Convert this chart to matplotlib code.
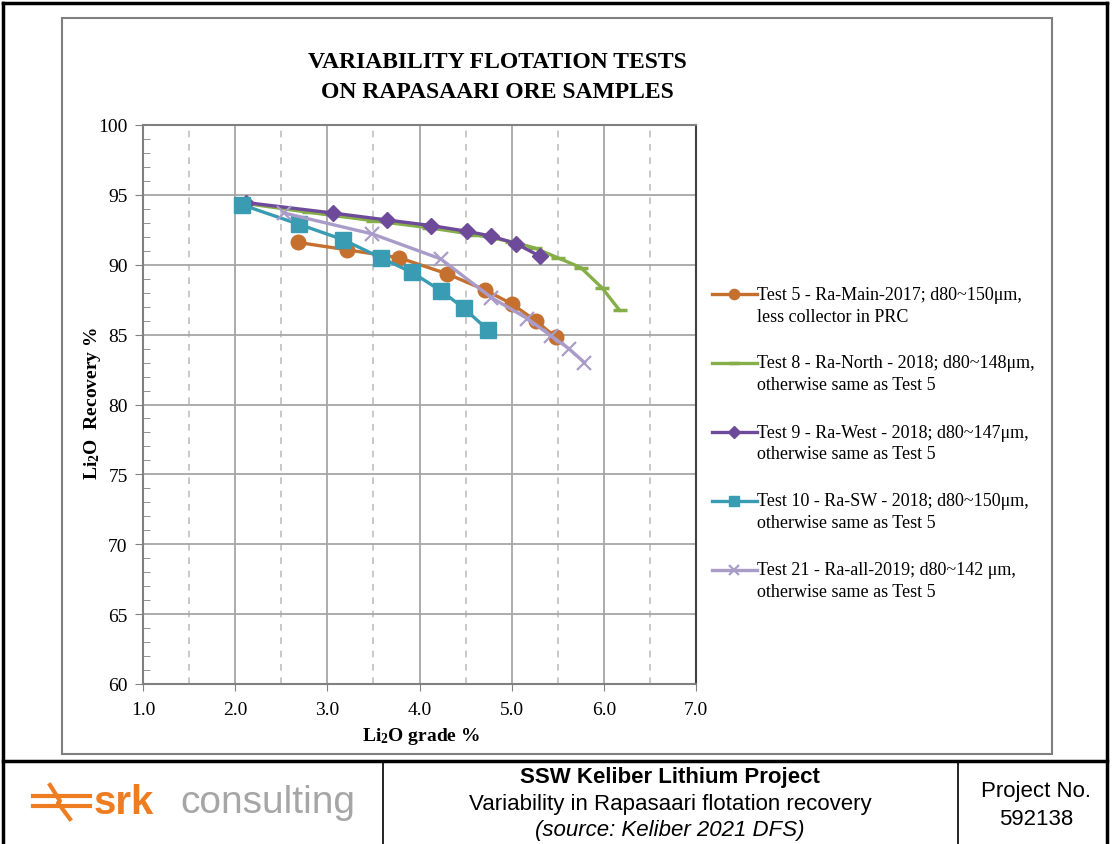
import matplotlib
matplotlib.use("Agg")
import matplotlib.pyplot as plt
from matplotlib.lines import Line2D
from matplotlib.patches import Rectangle

plt.rcParams["font.family"] = ["Liberation Serif", "DejaVu Serif"]
plt.rcParams["mathtext.fontset"] = "custom"
plt.rcParams["mathtext.rm"] = "Liberation Serif:bold"
plt.rcParams["mathtext.default"] = "rm"

# values (Li2O grade %, Li2O recovery %)
t5_grade = [2.68, 3.21, 3.78, 4.30, 4.71, 5.00, 5.26, 5.48]
t5_rec = [91.6, 91.07, 90.5, 89.35, 88.2, 87.2, 86.0, 84.8]

t8_grade = [2.10, 2.80, 3.50, 4.10, 4.60, 5.00, 5.25, 5.50, 5.75, 5.98, 6.17]
t8_rec = [94.4, 93.75, 93.15, 92.65, 92.15, 91.65, 91.2, 90.5, 89.8, 88.35, 86.75]

t9_grade = [2.12, 3.06, 3.65, 4.13, 4.51, 4.78, 5.05, 5.31]
t9_rec = [94.45, 93.7, 93.2, 92.8, 92.4, 92.05, 91.5, 90.6]

t10_grade = [2.07, 2.69, 3.17, 3.58, 3.92, 4.23, 4.48, 4.74]
t10_rec = [94.3, 92.9, 91.8, 90.5, 89.45, 88.15, 86.9, 85.35]

t21_grade = [2.53, 3.49, 4.23, 4.78, 5.17, 5.43, 5.62, 5.79]
t21_rec = [93.7, 92.2, 90.42, 87.65, 86.15, 84.9, 84.0, 83.0]

legend_labels = [
    ("Test 5 - Ra-Main-2017; d80~150\u03bcm,", "less collector in PRC"),
    ("Test 8 - Ra-North - 2018; d80~148\u03bcm,", "otherwise same as Test 5"),
    ("Test 9 - Ra-West - 2018; d80~147\u03bcm,", "otherwise same as Test 5"),
    ("Test 10 - Ra-SW - 2018; d80~150\u03bcm,", "otherwise same as Test 5"),
    ("Test 21 - Ra-all-2019; d80~142 \u03bcm,", "otherwise same as Test 5"),
]

x_ticks = [1.0, 2.0, 3.0, 4.0, 5.0, 6.0, 7.0]
y_ticks = [60, 65, 70, 75, 80, 85, 90, 95, 100]

series = [
    (t5_grade, t5_rec, "#C5702F", "o", 10.5, 1.0),
    (t8_grade, t8_rec, "#86AE48", "_", 10, 2.5),
    (t9_grade, t9_rec, "#6E4A9A", "D", 8.5, 1.0),
    (t10_grade, t10_rec, "#3A9CB2", "s", 11, 1.0),
    (t21_grade, t21_rec, "#AA9CC9", "x", 9.5, 1.6),
]

W, H = 1112, 845
fig = plt.figure(figsize=(W / 100, H / 100), dpi=100)


def fx(px):
    return px / W


def fy(py):
    return 1 - py / H


# frames
fig.add_artist(Rectangle((fx(62), fy(755)), fx(1052) - fx(62), fy(19) - fy(755),
                         transform=fig.transFigure, fill=False, ec="#7F7F7F", lw=1.5))
black = dict(transform=fig.transFigure, color="black", lw=2.5)
fig.add_artist(Line2D([fx(3), fx(1107)], [fy(4), fy(4)], **black))
fig.add_artist(Line2D([fx(3), fx(3)], [fy(4), fy(845)], **black))
fig.add_artist(Line2D([fx(1107), fx(1107)], [fy(4), fy(845)], **black))
fig.add_artist(Line2D([fx(3), fx(1107)], [fy(762), fy(762)], **black))
fig.add_artist(Line2D([fx(383), fx(383)], [fy(762), fy(845)], transform=fig.transFigure, color="black", lw=1.2))
fig.add_artist(Line2D([fx(958), fx(958)], [fy(762), fy(845)], transform=fig.transFigure, color="black", lw=1.2))

# chart
ax = fig.add_axes([fx(143), fy(685), (696 - 143) / W, (685 - 126) / H])
for gx, gy, col, mk, ms, mew in series:
    ax.plot(gx, gy, color=col, lw=2.4, marker=mk, markersize=ms,
            markeredgewidth=mew, markeredgecolor=col, markerfacecolor=col, zorder=3)

ax.set_xlim(1, 7)
ax.set_ylim(60, 100)
ax.set_xticks(x_ticks)
ax.set_xticklabels([f"{v:.1f}" for v in x_ticks], fontsize=14)
ax.set_xticks([1.5, 2.5, 3.5, 4.5, 5.5, 6.5], minor=True)
ax.set_yticks(y_ticks)
ax.set_yticklabels([str(v) for v in y_ticks], fontsize=14)
ax.set_yticks(range(60, 101), minor=True)
ax.grid(which="major", color="#A6A6A6", lw=1.3)
ax.xaxis.grid(which="minor", color="#BFBFBF", lw=1.2, ls=(0, (4, 4)))
ax.tick_params(axis="x", which="major", direction="out", length=5, color="#808080", pad=7)
ax.tick_params(axis="x", which="minor", length=0)
ax.tick_params(axis="y", which="major", direction="out", length=6, color="#808080", pad=5)
ax.tick_params(axis="y", which="minor", direction="in", length=5, color="#808080")
for s in ["left", "bottom", "top"]:
    ax.spines[s].set_color("#808080")
    ax.spines[s].set_linewidth(1.5)
ax.spines["right"].set_color("#3F3F3F")
ax.spines["right"].set_linewidth(1.5)
ax.set_axisbelow(True)

fig.text(fx(497), fy(63), "VARIABILITY FLOTATION TESTS", ha="center", va="center",
         fontsize=17, fontweight="bold")
fig.text(fx(497), fy(93), "ON RAPASAARI ORE SAMPLES", ha="center", va="center",
         fontsize=17, fontweight="bold")
fig.text(fx(421), fy(737), "Li$_2$O grade %", ha="center", va="center",
         fontsize=14, fontweight="bold")
fig.text(fx(93), fy(403), "Li$_2$O  Recovery %", ha="center", va="center",
         fontsize=14, fontweight="bold", rotation=90)

# legend
for i, (gx, gy, col, mk, ms, mew) in enumerate(series):
    yy = 295 + i * 69
    fig.add_artist(Line2D([fx(712), fx(734.5), fx(757)], [fy(yy)] * 3, transform=fig.transFigure,
                          color=col, lw=2.4, marker=mk, markevery=[1], markersize=ms * 0.7,
                          markeredgewidth=mew, markeredgecolor=col, markerfacecolor=col))
    l1, l2 = legend_labels[i]
    fig.text(fx(757), fy(yy), l1, ha="left", va="center", fontsize=13)
    fig.text(fx(757), fy(yy + 22), l2, ha="left", va="center", fontsize=13)

# footer
sans = ["Liberation Sans", "DejaVu Sans"]
fig.text(fx(670), fy(778), "SSW Keliber Lithium Project", ha="center", va="center",
         fontsize=16, fontweight="bold", family=sans)
fig.text(fx(670), fy(805), "Variability in Rapasaari flotation recovery", ha="center", va="center",
         fontsize=16, family=sans)
fig.text(fx(670), fy(831), "(source: Keliber 2021 DFS)", ha="center", va="center",
         fontsize=16, style="italic", family=sans)
fig.text(fx(1036), fy(792), "Project No.", ha="center", va="center", fontsize=16, family=sans)
fig.text(fx(1036), fy(820), "592138", ha="center", va="center", fontsize=16, family=sans)

orange = "#EE7D22"
logo = dict(transform=fig.transFigure, color=orange, lw=3)
fig.add_artist(Line2D([fx(33), fx(90)], [fy(797), fy(797)], **logo))
fig.add_artist(Line2D([fx(33), fx(90)], [fy(807), fy(807)], **logo))
fig.add_artist(Line2D([fx(50), fx(60), fx(58), fx(70)], [fy(786), fy(802), fy(804), fy(820)], **logo))
fig.text(fx(94), fy(803), "srk", ha="left", va="center", fontsize=29, fontweight="bold",
         color=orange, family=sans)
fig.text(fx(180), fy(803), "consulting", ha="left", va="center", fontsize=28,
         color="#A6A6A6", family=sans)

fig.savefig("out.png", dpi=100)
